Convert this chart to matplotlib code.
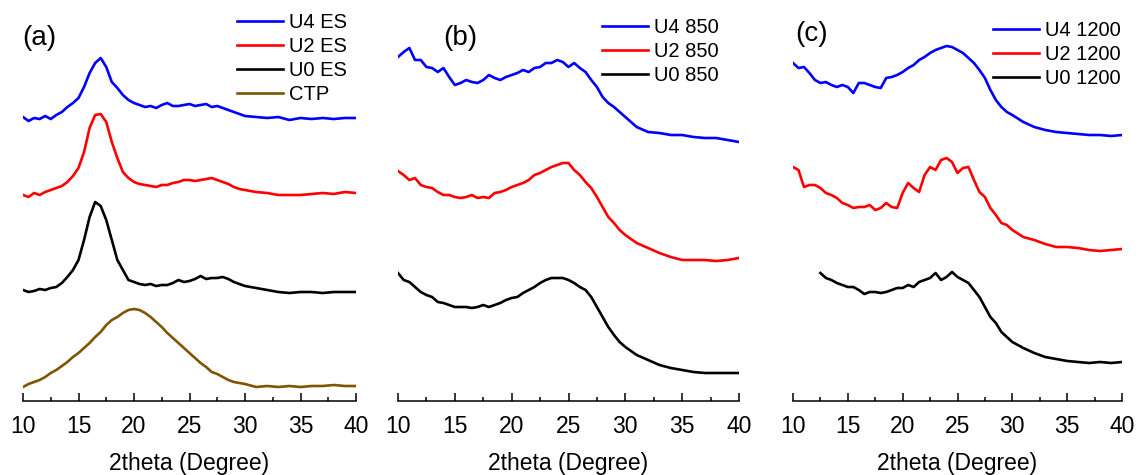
import numpy as np
import matplotlib
matplotlib.use('Agg')
import matplotlib.pyplot as plt

plt.rcParams['font.family'] = ['Liberation Sans', 'DejaVu Sans']

#===============================================================================
# data: 2theta grid and stacked intensities (a.u., offsets already applied)
#===============================================================================
two_theta = [10.0, 10.5, 11.0, 11.5, 12.0, 12.5, 13.0, 13.5, 14.0, 14.5,
             15.0, 15.5, 16.0, 16.5, 17.0, 17.5, 18.0, 18.5, 19.0, 19.5,
             20.0, 20.5, 21.0, 21.5, 22.0, 22.5, 23.0, 23.5, 24.0, 24.5,
             25.0, 25.5, 26.0, 26.5, 27.0, 27.5, 28.0, 28.5, 29.0, 29.5,
             30.0, 31.0, 32.0, 33.0, 34.0, 35.0, 36.0, 37.0, 38.0, 39.0, 40.0]

#(a) electrospun fibres + precursor
u4_es = [283, 279, 282, 281, 284, 281, 285, 288, 293, 297,
         302, 313, 327, 337, 342, 333, 318, 312, 305, 300,
         297, 295, 293, 294, 292, 295, 297, 294, 294, 295,
         296, 294, 295, 296, 293, 294, 292, 290, 288, 286,
         284, 283, 282, 283, 280, 282, 281, 282, 281, 282, 282]
u2_es = [205, 203, 207, 205, 208, 210, 212, 214, 218, 224,
         232, 248, 272, 285, 286, 278, 258, 242, 228, 222,
         218, 216, 215, 214, 213, 215, 215, 217, 218, 220,
         220, 219, 220, 221, 222, 220, 218, 216, 213, 211,
         210, 208, 207, 205, 205, 205, 206, 207, 206, 208, 207]
u0_es = [110, 108, 109, 111, 110, 112, 113, 117, 123, 130,
         140, 160, 183, 198, 194, 180, 160, 140, 130, 120,
         118, 116, 115, 116, 114, 115, 115, 117, 120, 118,
         119, 121, 124, 121, 122, 122, 123, 121, 118, 116,
         114, 112, 110, 108, 107, 108, 108, 107, 108, 108, 108]
ctp = [13, 16, 18, 20, 23, 27, 30, 34, 38, 43,
       47, 52, 57, 63, 68, 75, 80, 83, 87, 90,
       91, 90, 87, 83, 78, 73, 67, 62, 57, 52,
       47, 42, 37, 33, 28, 26, 23, 20, 18, 17,
       16, 13, 14, 13, 14, 13, 14, 14, 15, 14, 14]

#(b) carbonised at 850
u4_850 = [343, 348, 352, 340, 340, 333, 332, 328, 332, 323,
          315, 317, 320, 318, 317, 320, 325, 322, 320, 323,
          325, 327, 330, 328, 332, 333, 337, 337, 340, 338,
          333, 337, 332, 328, 320, 313, 303, 297, 293, 288,
          283, 273, 268, 267, 265, 265, 263, 262, 262, 260, 258]
u2_850 = [229, 225, 220, 222, 215, 213, 212, 208, 205, 205,
          203, 202, 203, 205, 202, 203, 202, 207, 208, 210,
          213, 215, 217, 220, 225, 227, 230, 233, 235, 237,
          237, 230, 225, 218, 212, 203, 193, 183, 177, 170,
          165, 157, 152, 147, 143, 140, 140, 140, 139, 140, 142]
u0_850 = [127, 120, 118, 113, 108, 105, 103, 98, 97, 95,
          93, 93, 93, 92, 93, 95, 93, 95, 97, 100,
          102, 103, 107, 110, 113, 117, 120, 122, 122, 122,
          120, 117, 113, 110, 103, 93, 83, 73, 65, 58,
          53, 45, 40, 35, 32, 30, 28, 27, 27, 27, 27]

#(c) carbonised at 1200 (U0 scan starts at 12.5)
u4_1200 = [337, 332, 333, 327, 320, 317, 318, 315, 313, 315,
           313, 307, 317, 317, 315, 313, 312, 322, 323, 325,
           328, 332, 335, 340, 343, 347, 350, 352, 354, 353,
           350, 347, 342, 337, 330, 322, 310, 300, 293, 288,
           285, 278, 273, 270, 268, 267, 266, 265, 265, 264, 265]
u2_1200 = [233, 230, 213, 215, 215, 212, 207, 205, 202, 197,
           195, 192, 193, 193, 195, 190, 192, 197, 193, 192,
           207, 217, 212, 208, 225, 233, 230, 240, 242, 238,
           227, 232, 233, 220, 208, 203, 192, 185, 177, 175,
           170, 163, 160, 156, 153, 153, 152, 150, 149, 150, 151]
u0_1200 = [np.nan, np.nan, np.nan, np.nan, np.nan, 127, 122, 120, 117, 115,
           113, 113, 110, 106, 108, 108, 107, 108, 110, 112,
           112, 115, 113, 118, 120, 122, 127, 120, 123, 128,
           123, 120, 117, 110, 103, 93, 83, 77, 68, 63,
           58, 52, 47, 43, 41, 39, 38, 37, 38, 37, 38]

panels = [
    ('(a)', [('U4 ES', u4_es, 'blue'), ('U2 ES', u2_es, 'red'),
             ('U0 ES', u0_es, 'black'), ('CTP', ctp, '#7f5500')]),
    ('(b)', [('U4 850', u4_850, 'blue'), ('U2 850', u2_850, 'red'),
             ('U0 850', u0_850, 'black')]),
    ('(c)', [('U4 1200', u4_1200, 'blue'), ('U2 1200', u2_1200, 'red'),
             ('U0 1200', u0_1200, 'black')]),
]

#===============================================================================
# layout (pixel positions on a 1141x475 canvas)
#===============================================================================
W, H = 1141, 475
ax_px = [(23, 333), (398, 341), (793, 329)]  # left, width
bottom_px = 401
tag_px = [(22, 38), (443, 38), (795, 34)]
leg_px = [(237, 13), (602, 18), (993, 21)]

fig = plt.figure(figsize=(W / 100, H / 100), dpi=100)

for (tag, series), (left, width), (tx, ty), (lx, ly) in zip(panels, ax_px, tag_px, leg_px):
    ax = fig.add_axes([left / W, (H - bottom_px) / H, width / W, bottom_px / H])
    for label, vals, color in series:
        ax.plot(two_theta, vals, color=color, lw=1.9, label=label)

    ax.set_xlim(10, 40)
    ax.set_ylim(-1, 400)
    for s in ['top', 'left', 'right']:
        ax.spines[s].set_visible(False)
    ax.spines['bottom'].set_linewidth(1.1)
    ax.set_yticks([])
    ax.set_xticks(np.arange(10, 41, 5))
    ax.set_xticks(np.arange(12.5, 40, 5), minor=True)
    ax.tick_params(axis='x', which='major', direction='in', length=5.5, width=1.1,
                   labelsize=16.5, pad=10)
    ax.tick_params(axis='x', which='minor', direction='in', length=3, width=1.1)
    ax.set_xlabel('2theta (Degree)', fontsize=16.5, labelpad=10)
    ax.patch.set_alpha(0)

    fig.text(tx / W, 1 - ty / H, tag, fontsize=20, ha='left', va='center')

    ax.legend(loc='upper left', bbox_to_anchor=(lx / W, 1 - ly / H),
              bbox_transform=fig.transFigure, frameon=False, fontsize=14.5,
              handlelength=2.3, handletextpad=0.3, labelspacing=0.25,
              borderpad=0, borderaxespad=0)

fig.savefig('out.png', dpi=100)
